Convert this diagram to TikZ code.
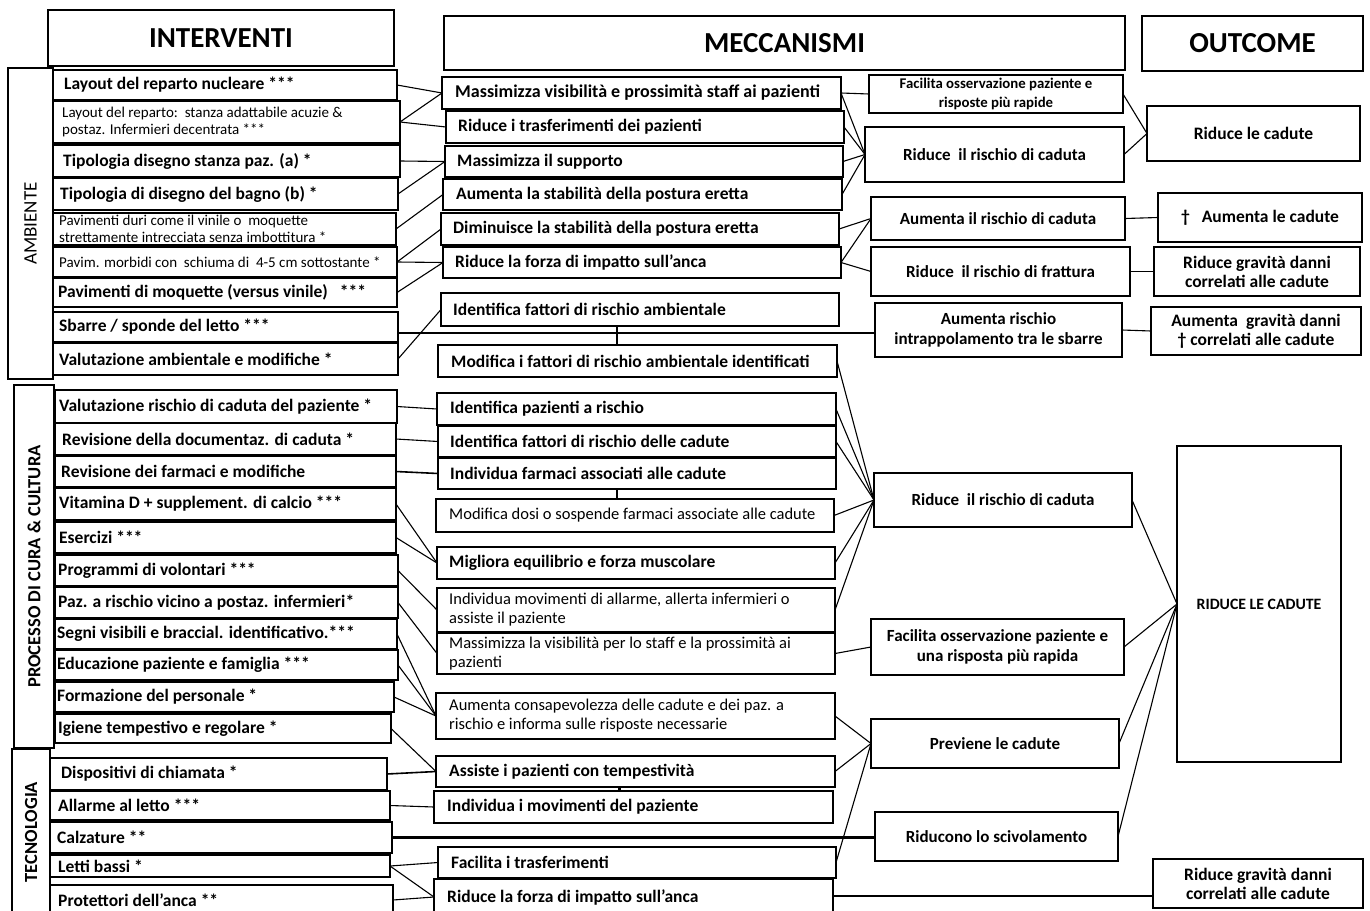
\documentclass[tikz,border=0pt]{standalone}
\usepackage{fontspec}
\setmainfont{Carlito}
\tikzset{
  boxbase/.style={draw=black, line width=1.3pt, inner sep=0pt, outer sep=0pt},
  fb/.style={font=\bfseries\fontsize{17.5}{20}\selectfont},
  fbm/.style={font=\bfseries\fontsize{18}{20}\selectfont},
  fs/.style={font=\fontsize{15}{17}\selectfont},
  fr/.style={font=\fontsize{16.5}{19}\selectfont},
  fm/.style={font=\bfseries\fontsize{14.8}{19}\selectfont},
  fq/.style={font=\bfseries\fontsize{17}{20}\selectfont},
  fo/.style={font=\bfseries\fontsize{17.5}{19}\selectfont},
  fx/.style={font=\bfseries\fontsize{15.8}{19}\selectfont},
  fh/.style={font=\bfseries\fontsize{29}{32}\selectfont},
  conn/.style={line width=1.1pt, line cap=round},
  thk/.style={line width=1.6pt},
  tick/.style={line width=2.8pt},
  heavy/.style={line width=3.8pt},
}
% box with left aligned text: name x1 y1 x2 y2 inset style text
\newcommand\Bl[8]{%
  \pgfmathsetmacro\myW{#4-#2}%
  \pgfmathsetmacro\myH{#5-#3}%
  \node[boxbase,minimum width=\myW pt,minimum height=\myH pt] (#1) at ({(#2+#4)/2},{(#3+#5)/2}) {};
  \node[#7,anchor=west,inner sep=0pt,align=left] (#1t) at ([xshift=#6pt]#1.west) {#8};}
% box with centred text: name x1 y1 x2 y2 style text
\newcommand\Bc[7]{%
  \pgfmathsetmacro\myW{#4-#2}%
  \pgfmathsetmacro\myH{#5-#3}%
  \node[boxbase,minimum width=\myW pt,minimum height=\myH pt] (#1) at ({(#2+#4)/2},{(#3+#5)/2}) {};
  \node[#6,inner sep=0pt,align=center] (#1t) at (#1.center) {#7};}
\begin{document}
\begin{tikzpicture}[x=1pt,y=-1pt]
\useasboundingbox (0,0) rectangle (1370,910);
% headers
\Bc{H1}{48}{10}{394}{66}{fh}{INTERVENTI}
\Bc{H2}{444}{16}{1125}{70}{fh}{MECCANISMI}
\Bc{H3}{1142}{16}{1363}{71}{fh}{OUTCOME}
% side labels
\Bc{S1}{8}{68}{53}{379}{rotate=90,font=\fontsize{19}{21}\selectfont}{AMBIENTE}
\Bc{S2}{14}{385}{54}{748}{rotate=90,font=\bfseries\fontsize{18.5}{21}\selectfont}{PROCESSO DI CURA \& CULTURA}
\Bc{S3}{12}{749}{50}{915}{rotate=90,font=\bfseries\fontsize{18.5}{21}\selectfont}{TECNOLOGIA}
% left column
\Bl{L1}{53}{70}{397}{100}{11}{fb}{Layout del reparto nucleare ***}
\Bl{L2}{53}{101}{400}{143}{9}{fs}{Layout del reparto:\ \ stanza adattabile acuzie \&\\postaz. Infermieri decentrata ***}
\Bl{L3}{53}{145}{400}{177}{10}{fb}{Tipologia disegno stanza paz. (a) *}
\Bl{L4}{53}{178}{398}{210}{7}{fb}{Tipologia di disegno del bagno (b) *}
\Bl{L5}{53}{213}{396}{245}{6}{fs}{Pavimenti duri come il vinile o\ \ moquette\\strettamente intrecciata senza imbottitura *}
\Bl{L6}{53}{247}{397}{277}{6}{fs}{Pavim. morbidi con\ \ schiuma di\ \ 4-5 cm sottostante *}
\Bl{L7}{53}{278}{397}{307}{5}{fb}{Pavimenti di moquette (versus vinile)\ \ \ ***}
\Bl{L8}{53}{312}{398}{342}{6}{fb}{Sbarre / sponde del letto ***}
\Bl{L9}{53}{343}{398}{375}{6}{fb}{Valutazione ambientale e modifiche *}
\Bl{L10}{55}{390}{397}{423}{4}{fb}{Valutazione rischio di caduta del paziente *}
\Bl{L11}{55}{423}{396}{455}{7}{fb}{Revisione della documentaz. di caduta *}
\Bl{L12}{55}{456}{396}{487}{6}{fb}{Revisione dei farmaci e modifiche}
\Bl{L13}{55}{488}{396}{520}{4}{fb}{Vitamina D + supplement. di calcio ***}
\Bl{L14}{55}{522}{396}{553}{4}{fb}{Esercizi ***}
\Bl{L15}{55}{555}{398}{586}{3}{fb}{Programmi di volontari ***}
\Bl{L16}{55}{587}{398}{618}{3}{fb}{Paz. a rischio vicino a postaz. infermieri*}
\Bl{L17}{55}{619}{397}{649}{2}{fb}{Segni visibili e braccial. identificativo.***}
\Bl{L18}{55}{650}{398}{680}{2}{fb}{Educazione paziente e famiglia ***}
\Bl{L19}{55}{682}{394}{712}{2}{fb}{Formazione del personale *}
\Bl{L20}{55}{714}{391}{743}{3}{fb}{Igiene tempestivo e regolare *}
\Bl{L21}{50}{758}{387}{790}{11}{fb}{Dispositivi di chiamata *}
\Bl{L22}{50}{791}{390}{820}{8}{fb}{Allarme al letto ***}
\Bl{L23}{50}{822}{392}{853}{7}{fb}{Calzature **}
\Bl{L24}{50}{855}{390}{877}{8}{fb}{Letti bassi *}
\Bl{L25}{50}{885}{393}{915}{8}{fb}{Protettori dell’anca **}
% middle column
\Bl{M1}{442}{77}{841}{109}{13}{fbm}{Massimizza visibilità e prossimità staff ai pazienti}
\Bl{M2}{446}{111}{844}{143}{12}{fb}{Riduce i trasferimenti dei pazienti}
\Bl{M3}{445}{146}{843}{177}{12}{fb}{Massimizza il supporto}
\Bl{M4}{443}{179}{842}{210}{13}{fb}{Aumenta la stabilità della postura eretta}
\Bl{M5}{441}{213}{839}{245}{12}{fb}{Diminuisce la stabilità della postura eretta}
\Bl{M6}{443}{247}{841}{278}{12}{fb}{Riduce la forza di impatto sull’anca}
\Bl{M7}{441}{293}{839}{326}{12}{fb}{Identifica fattori di rischio ambientale}
\Bl{M8}{438}{345}{837}{377}{13}{fb}{Modifica i fattori di rischio ambientale identificati}
\Bl{M9}{437}{393}{836}{425}{13}{fb}{Identifica pazienti a rischio}
\Bl{M10}{438}{426}{836}{457}{12}{fb}{Identifica fattori di rischio delle cadute}
\Bl{M11}{438}{458}{836}{489}{12}{fb}{Individua farmaci associati alle cadute}
\Bl{M12}{436}{499}{834}{532}{13}{fr}{Modifica dosi o sospende farmaci associate alle cadute}
\Bl{M13}{437}{547}{835}{579}{12}{fb}{Migliora equilibrio e forza muscolare}
\Bl{M14}{437}{588}{835}{632}{12}{fr}{Individua movimenti di allarme, allerta infermieri o\\assiste il paziente}
\Bl{M15}{437}{633}{835}{674}{12}{fr}{Massimizza la visibilità per lo staff e la prossimità ai\\pazienti}
\Bl{M16}{436}{693}{835}{739}{13}{fr}{Aumenta consapevolezza delle cadute e dei paz. a\\rischio e informa sulle risposte necessarie}
\Bl{M17}{436}{756}{835}{787}{13}{fb}{Assiste i pazienti con tempestività}
\Bl{M18}{434}{791}{833}{823}{13}{fb}{Individua i movimenti del paziente}
\Bl{M19}{438}{847}{836}{878}{13}{fb}{Facilita i trasferimenti}
\Bl{M20}{434}{879}{833}{915}{13}{fb}{Riduce la forza di impatto sull’anca}
% right mechanisms
\Bc{R1}{869}{75}{1123}{113}{fm}{Facilita osservazione paziente e\\risposte più rapide}
\Bc{R2}{865}{127}{1124}{182}{fq}{Riduce\ \ il rischio di caduta}
\Bc{R3}{871}{197}{1125}{240}{fq}{Aumenta il rischio di caduta}
\Bc{R4}{871}{247}{1130}{296}{fq}{Riduce\ \ il rischio di frattura}
\Bc{R5}{875}{303}{1122}{357}{fq}{Aumenta rischio\\intrappolamento tra le sbarre}
\Bc{R6}{874}{473}{1132}{527}{fq}{Riduce\ \ il rischio di caduta}
\Bc{R7}{871}{619}{1124}{675}{fq}{Facilita osservazione paziente e\\una risposta più rapida}
\Bc{R8}{871}{719}{1119}{768}{fq}{Previene le cadute}
\Bc{R9}{875}{812}{1118}{861}{fq}{Riducono lo scivolamento}
% outcomes
\Bc{O1}{1147}{106}{1360}{161}{fo}{Riduce le cadute}
\Bc{O2}{1158}{193}{1362}{242}{fo}{†\hspace{12pt}Aumenta le cadute}
\Bc{O3}{1154}{247}{1360}{296}{fo}{Riduce gravità danni\\correlati alle cadute}
\Bc{O4}{1151}{307}{1361}{355}{fo}{Aumenta\ \ gravità danni\\†\ correlati alle cadute}
\Bc{O5}{1177}{446}{1341}{762}{fx}{RIDUCE LE CADUTE}
\Bc{O6}{1153}{859}{1363}{908}{fo}{Riduce gravità danni\\correlati alle cadute}
% connectors: ambiente
\draw[conn] (L1.east) -- (M1.west);
\draw[conn] (L2.east) -- (M1.west);
\draw[conn] (L2.east) -- (M2.west);
\draw[conn] (L3.east) -- (M3.west);
\draw[conn] (L4.east) -- (M3.west);
\draw[conn] (L5.east) -- (M4.west);
\draw[conn] (L6.east) -- (M5.west);
\draw[conn] (L6.east) -- (M6.west);
\draw[conn] (L7.east) -- (M6.west);
\coordinate (sb) at ([yshift=-6pt]L8.east);
\draw[thk] (sb) -- (sb -| R5.west);
\draw[conn] (L9.east) -- (M7.west);
\draw[conn] (M1.east) -- (R1.west);
\draw[conn] (M1.east) -- (R2.west);
\draw[conn] (M2.east) -- (R2.west);
\draw[conn] (M3.east) -- (R2.west);
\draw[conn] (M4.east) -- (R2.west);
\draw[conn] (R1.east) -- (O1.west);
\draw[conn] (R2.east) -- (O1.west);
\draw[conn] (M5.east) -- (R3.west);
\draw[conn] (M6.east) -- (R3.west);
\draw[conn] (M6.east) -- (R4.west);
\draw[conn] (R3.east) -- (O2.west);
\draw[conn] (R4.east) -- (O3.west);
\draw[conn] (R5.east) -- (O4.west);
\coordinate (t1) at ([xshift=-23pt]M7.south);
\draw[tick] (t1) -- (t1 |- M8.north);
% connectors: processo
\draw[conn] (L10.east) -- (M9.west);
\draw[conn] (L11.east) -- (M10.west);
\draw[thk] (L12.east) -- (M11.west);
\draw[conn] (L13.east) -- (M13.west);
\draw[conn] (L14.east) -- (M13.west);
\draw[conn] (L15.east) -- (M14.west);
\draw[conn] (L16.east) -- (M15.west);
\draw[conn] (L17.east) -- (M16.west);
\draw[conn] (L18.east) -- (M16.west);
\draw[conn] (L19.east) -- (M16.west);
\draw[conn] (L20.east) -- (M17.west);
\coordinate (t2) at ([xshift=-20pt]M11.south);
\draw[tick] (t2) -- (t2 |- M12.north);
\foreach \m in {M8,M9,M10,M12,M13,M14} \draw[conn] (\m.east) -- (R6.west);
\draw[conn] (M15.east) -- (R7.west);
\foreach \r in {R6,R7,R8,R9} \draw[conn] (\r.east) -- (O5.west);
% connectors: tecnologia
\draw[thk] (L21.east) -- (M17.west);
\draw[conn] (L22.east) -- (M18.west);
\coordinate (cz) at (L23.east);
\draw[heavy] (cz) -- (cz -| R9.west);
\draw[conn] (L24.east) -- (M19.west);
\draw[conn] (L24.east) -- (M20.west);
\draw[conn] (L25.east) -- (M20.west);
\coordinate (t3) at ([xshift=-16pt]M17.south);
\draw[tick] (t3) -- (t3 |- M18.north);
\draw[conn] (M16.east) -- (R8.west);
\draw[conn] (M17.east) -- (R8.west);
\draw[conn] (M19.east) -- (R8.west);
\coordinate (m20) at ([yshift=1pt]M20.east);
\draw[thk] (m20) -- (m20 -| O6.west);
\end{tikzpicture}
\end{document}
